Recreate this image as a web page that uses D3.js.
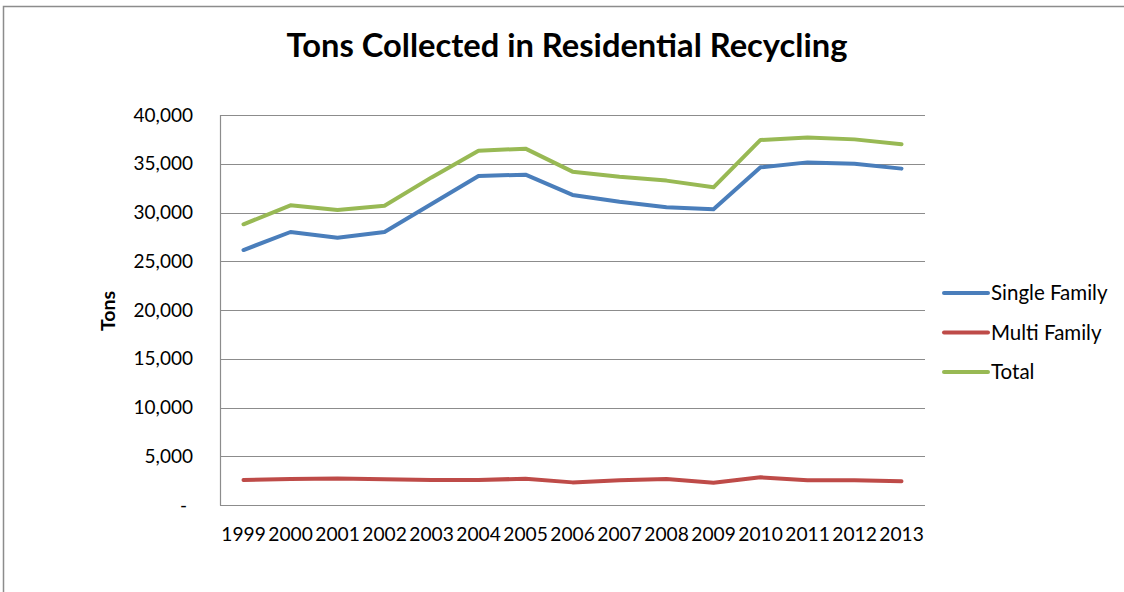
<!DOCTYPE html>
<html><head><meta charset="utf-8">
<script src="https://cdn.jsdelivr.net/npm/d3@7"></script>
<style>body{margin:0;background:#fff}svg{display:block}text{font-family:Lato,"Open Sans",sans-serif}</style>
</head><body><svg id="c" width="1124" height="592"></svg>
<script>
const years = ["1999","2000","2001","2002","2003","2004","2005","2006","2007","2008","2009","2010","2011","2012","2013"];
const singleFamily = [26150,28000,27420,28000,30870,33740,33880,31800,31110,30530,30330,34630,35140,35010,34500];
const multiFamily = [2560,2670,2730,2630,2560,2560,2700,2320,2530,2670,2290,2840,2530,2530,2430];
const total = [28790,30740,30256,30700,33600,36340,36550,34190,33670,33270,32580,37440,37680,37500,37000];
const seriesNames = ["Single Family","Multi Family","Total"];
const yTicks = [0,5000,10000,15000,20000,25000,30000,35000,40000];
const colors = ["#4A7EBB","#BE4B48","#98B954"];

const svg = d3.select("#c");
svg.append("rect").attr("x",3.5).attr("y",6.5).attr("width",1200).attr("height",700)
  .attr("fill","none").attr("stroke","#8c8c8c").attr("stroke-width",1.5);

const L=220,R=925,T=115,B=505;
const x = d3.scaleBand().domain(years).range([L,R]);
const y = d3.scaleLinear().domain([0,40000]).range([B,T]);

// gridlines
svg.append("g").selectAll("line").data(yTicks).join("line")
  .attr("x1",L).attr("x2",R).attr("y1",d=>Math.round(y(d))+0.5).attr("y2",d=>Math.round(y(d))+0.5)
  .attr("stroke","#8c8c8c").attr("stroke-width",1.2);
svg.append("line").attr("x1",L+0.5).attr("x2",L+0.5).attr("y1",T).attr("y2",B+0.5)
  .attr("stroke","#8c8c8c").attr("stroke-width",1.2);

// y axis labels
const fmt = d3.format(",");
const yAxis = d3.axisLeft(y).tickValues(yTicks).tickSize(0).tickPadding(27)
  .tickFormat(d => d===0 ? "-" : fmt(d));
const ga = svg.append("g").attr("transform",`translate(${L},0)`).call(yAxis);
ga.select(".domain").remove();
ga.selectAll("text").attr("font-family","Lato").attr("font-size",19).attr("fill","#000");
ga.selectAll("text").filter(d=>d===0).attr("dx",-6);

// x axis labels
const xAxis = d3.axisBottom(x).tickSize(0).tickPadding(22);
const gx = svg.append("g").attr("transform",`translate(0,${B})`).call(xAxis);
gx.select(".domain").remove();
gx.selectAll("text").attr("font-family","Lato").attr("font-size",19.2).attr("fill","#000");

// lines
const data = [singleFamily,multiFamily,total];
const line = d3.line().x((d,i)=>x(years[i])+x.bandwidth()/2).y(d=>y(d));
svg.append("g").selectAll("path").data(data).join("path")
  .attr("d",line).attr("fill","none").attr("stroke",(d,i)=>colors[i])
  .attr("stroke-width",4).attr("stroke-linejoin","round").attr("stroke-linecap","round");

// title
const title = svg.append("text").attr("x",567).attr("y",57).attr("text-anchor","middle")
  .attr("font-weight","bold").attr("font-size",28).text("Tons Collected in Residential Recycling");
const tw = title.node().getComputedTextLength();
title.attr("font-size",28*561/tw);

// y title
svg.append("text").attr("transform","translate(115,311) rotate(-90)").attr("text-anchor","middle")
  .attr("font-weight","bold").attr("font-size",19.5).text("Tons");

// legend
const lg = svg.append("g").selectAll("g").data(seriesNames).join("g")
  .attr("transform",(d,i)=>`translate(0,${293+i*39.5})`);
lg.append("line").attr("x1",944).attr("x2",988).attr("y1",0).attr("y2",0)
  .attr("stroke",(d,i)=>colors[i]).attr("stroke-width",4).attr("stroke-linecap","round");
lg.append("text").attr("x",991).attr("y",7).attr("font-size",20.5).text(d=>d);
</script></body></html>
